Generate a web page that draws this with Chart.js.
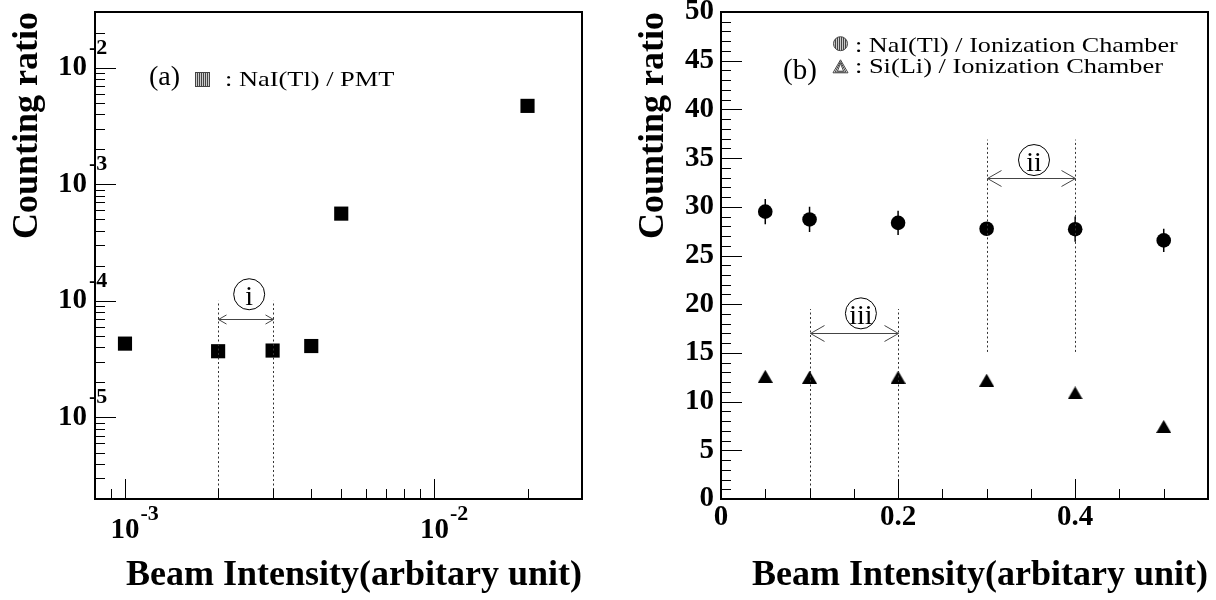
<!DOCTYPE html>
<html>
<head>
<meta charset="utf-8">
<title>Counting ratio vs beam intensity</title>
<script src="https://cdn.jsdelivr.net/npm/chart.js@4.4.1/dist/chart.umd.min.js"></script>
<style>
  html, body { margin: 0; padding: 0; background: #fff; }
  #wrap { position: relative; width: 1216px; height: 600px; }
  #wrap canvas { position: absolute; top: 0; }
  #chartA { left: 0; }
  #chartB { left: 608px; }
</style>
</head>
<body>
<div id="wrap">
  <canvas id="chartA" width="608" height="600"></canvas>
  <canvas id="chartB" width="608" height="600"></canvas>
</div>
<script>
// (a) NaI(Tl) / PMT on log-log axes
const beamA = [0.001, 0.002, 0.003, 0.004, 0.005, 0.02];
const ratioA = [4.3e-5, 3.7e-5, 3.75e-5, 4.1e-5, 5.6e-4, 4.7e-3];
const rangeXA = [8e-4, 3e-2];
const rangeYA = [2e-6, 3e-2];

// (b) detectors against the ionization chamber
const beamB = [0.05, 0.1, 0.2, 0.3, 0.4, 0.5];
const naiB = [29.5, 28.7, 28.35, 27.75, 27.7, 26.55];
const naiErrB = [1.3, 1.3, 1.25, 0.7, 1.3, 1.2];
const siB = [12.6, 12.5, 12.5, 12.2, 10.9, 7.45];
const rangeXB = [0, 0.55];
const rangeYB = [0, 50];

// marked intervals: dotted guides, double arrow, circled numeral
const marksA = [
  { text: 'i', from: 0.002, to: 0.003, lineY: [2e-6, 1e-4], arrowY: 7e-5, at: [2.52e-3, 1.14e-4], head: 8 }
];
const marksB = [
  { text: 'iii', from: 0.1, to: 0.2, lineY: [0, 19.5], arrowY: 17.0, at: [0.158, 19.06], head: 14 },
  { text: 'ii', from: 0.3, to: 0.4, lineY: [15.1, 36.9], arrowY: 33.0, at: [0.3535, 34.8], head: 14 }
];

const SERIF = "'Liberation Serif', 'Times New Roman', serif";
Chart.defaults.font.family = SERIF;
Chart.defaults.color = '#000';

function isDecade(v) {
  const e = Math.log10(v);
  return Math.abs(e - Math.round(e)) < 1e-6;
}

function multipleOf(v, step) {
  const r = v / step;
  return Math.abs(r - Math.round(r)) < 1e-6;
}

// 1..9 x 10^n inside [min, max]
function logTickValues(min, max) {
  const out = [];
  for (let e = Math.floor(Math.log10(min)); e <= Math.ceil(Math.log10(max)); e++) {
    for (let s = 1; s <= 9; s++) {
      const v = s * Math.pow(10, e);
      if (v >= min * 0.999 && v <= max * 1.001) out.push(v);
    }
  }
  return out;
}

function linearTickValues(min, max, step) {
  const out = [];
  const n = Math.round((max - min) / step);
  for (let i = 0; i <= n; i++) out.push(min + i * step);
  return out;
}

function stretchedText(ctx, text, x, y, sx) {
  ctx.save();
  ctx.translate(x, y);
  ctx.scale(sx, 1);
  ctx.fillText(text, 0, 0);
  ctx.restore();
}

// solid triangle, centred on its bounding box
function triangleMarker(w, h) {
  const c = document.createElement('canvas');
  c.width = w;
  c.height = h;
  const g = c.getContext('2d');
  g.fillStyle = '#000';
  g.beginPath();
  g.moveTo(w / 2, 0);
  g.lineTo(w, h);
  g.lineTo(0, h);
  g.closePath();
  g.fill();
  return c;
}

// hatched legend symbols
function hatchSquare(ctx, x, y, s) {
  ctx.save();
  ctx.fillStyle = '#ccc';
  ctx.fillRect(x, y, s, s);
  ctx.strokeStyle = '#444';
  ctx.lineWidth = 1;
  ctx.strokeRect(x + 0.5, y + 0.5, s - 1, s - 1);
  ctx.beginPath();
  for (let i = x + 2.5; i < x + s - 1; i += 2) {
    ctx.moveTo(i, y + 1);
    ctx.lineTo(i, y + s - 1);
  }
  ctx.stroke();
  ctx.restore();
}

function hatchCircle(ctx, cx, cy, r) {
  ctx.save();
  ctx.beginPath();
  ctx.arc(cx, cy, r, 0, Math.PI * 2);
  ctx.fillStyle = '#ccc';
  ctx.fill();
  ctx.strokeStyle = '#444';
  ctx.lineWidth = 1;
  ctx.stroke();
  ctx.clip();
  ctx.beginPath();
  for (let i = cx - r + 2; i < cx + r; i += 2) {
    ctx.moveTo(i, cy - r);
    ctx.lineTo(i, cy + r);
  }
  ctx.stroke();
  ctx.restore();
}

function hatchTriangle(ctx, cx, cy, w, h) {
  ctx.save();
  ctx.strokeStyle = '#444';
  ctx.lineWidth = 1;
  for (let k = 0; k < 3; k++) {
    const hw = w / 2 - k * 2.2, hh = h / 2 - k * 1.8;
    ctx.beginPath();
    ctx.moveTo(cx, cy - hh);
    ctx.lineTo(cx + hw, cy + h / 2 - k * 0.8);
    ctx.lineTo(cx - hw, cy + h / 2 - k * 0.8);
    ctx.closePath();
    ctx.stroke();
  }
  ctx.restore();
}

// inward ticks and the closed frame
function rootFrame(xTicks, yTicks, isMajorX, isMajorY) {
  return {
    id: 'rootFrame',
    afterDraw(chart) {
      const { ctx, chartArea: a } = chart;
      const xs = chart.scales.x, ys = chart.scales.y;
      ctx.save();
      ctx.strokeStyle = '#000';
      ctx.lineWidth = 1;
      ctx.beginPath();
      xTicks.forEach(v => {
        const px = Math.round(xs.getPixelForValue(v)) + 0.5;
        const len = isMajorX(v) ? 20 : 10;
        ctx.moveTo(px, a.bottom);
        ctx.lineTo(px, a.bottom - len);
      });
      yTicks.forEach(v => {
        const py = Math.round(ys.getPixelForValue(v)) + 0.5;
        const len = isMajorY(v) ? 21 : 10;
        ctx.moveTo(a.left, py);
        ctx.lineTo(a.left + len, py);
      });
      ctx.stroke();
      ctx.lineWidth = 2;
      ctx.strokeRect(a.left, a.top, a.right - a.left, a.bottom - a.top);
      ctx.restore();
    }
  };
}

// exponents next to the "10" labels of the log axes
const decadeExponents = {
  id: 'decadeExponents',
  afterDraw(chart) {
    const { ctx, chartArea: a } = chart;
    const xs = chart.scales.x, ys = chart.scales.y;
    ctx.save();
    ctx.fillStyle = '#000';
    ctx.font = 'bold 29px ' + SERIF;
    const w10 = ctx.measureText('10').width;
    ctx.font = 'bold 22px ' + SERIF;
    ctx.textAlign = 'left';
    ctx.textBaseline = 'alphabetic';
    logTickValues(rangeXA[0], rangeXA[1]).filter(isDecade).forEach(v => {
      const px = xs.getPixelForValue(v);
      ctx.fillText(String(Math.round(Math.log10(v))), px + w10 / 2 + 1, a.bottom + 21);
    });
    logTickValues(rangeYA[0], rangeYA[1]).filter(isDecade).forEach(v => {
      const py = ys.getPixelForValue(v);
      ctx.fillText(String(Math.round(Math.log10(v))), a.left - 6, py - 14);
    });
    ctx.restore();
  }
};

// vertical error bars for the NaI(Tl) points
const errorBars = {
  id: 'errorBars',
  beforeDatasetsDraw(chart) {
    const { ctx } = chart;
    const xs = chart.scales.x, ys = chart.scales.y;
    ctx.save();
    ctx.strokeStyle = '#000';
    ctx.lineWidth = 1.5;
    ctx.beginPath();
    beamB.forEach((b, i) => {
      const px = xs.getPixelForValue(b);
      ctx.moveTo(px, ys.getPixelForValue(naiB[i] - naiErrB[i]));
      ctx.lineTo(px, ys.getPixelForValue(naiB[i] + naiErrB[i]));
    });
    ctx.stroke();
    ctx.restore();
  }
};

function rangeMarks(marks) {
  return {
    id: 'rangeMarks',
    afterDatasetsDraw(chart) {
      const { ctx } = chart;
      const xs = chart.scales.x, ys = chart.scales.y;
      ctx.save();
      marks.forEach(m => {
        const x1 = Math.round(xs.getPixelForValue(m.from)) + 0.5;
        const x2 = Math.round(xs.getPixelForValue(m.to)) + 0.5;
        const yb = ys.getPixelForValue(m.lineY[0]);
        const yt = ys.getPixelForValue(m.lineY[1]);
        ctx.lineWidth = 1;
        ctx.strokeStyle = '#333';
        ctx.setLineDash([2, 2.5]);
        ctx.beginPath();
        [x1, x2].forEach(x => { ctx.moveTo(x, yb); ctx.lineTo(x, yt); });
        ctx.stroke();
        ctx.setLineDash([]);

        const ya = Math.round(ys.getPixelForValue(m.arrowY)) + 0.5;
        const h = m.head, hw = h * 0.57;
        ctx.strokeStyle = '#444';
        ctx.beginPath();
        ctx.moveTo(x1, ya); ctx.lineTo(x2, ya);
        ctx.moveTo(x1 + h, ya - hw); ctx.lineTo(x1, ya); ctx.lineTo(x1 + h, ya + hw);
        ctx.moveTo(x2 - h, ya - hw); ctx.lineTo(x2, ya); ctx.lineTo(x2 - h, ya + hw);
        ctx.stroke();

        const cx = xs.getPixelForValue(m.at[0]);
        const cy = ys.getPixelForValue(m.at[1]);
        ctx.strokeStyle = '#000';
        ctx.fillStyle = '#fff';
        ctx.beginPath();
        ctx.arc(cx, cy, 15.5, 0, Math.PI * 2);
        ctx.fill();
        ctx.stroke();
        ctx.fillStyle = '#000';
        ctx.font = '28px ' + SERIF;
        ctx.textAlign = 'center';
        ctx.textBaseline = 'alphabetic';
        ctx.fillText(m.text, cx, cy + 11);
      });
      ctx.restore();
    }
  };
}

const legendA = {
  id: 'legendA',
  afterDraw(chart) {
    const { ctx, chartArea: a } = chart;
    ctx.save();
    ctx.fillStyle = '#000';
    ctx.textBaseline = 'alphabetic';
    ctx.font = '28px ' + SERIF;
    ctx.fillText('(a)', a.left + 54, a.top + 73);
    hatchSquare(ctx, a.left + 100, a.top + 60, 15);
    ctx.font = '22px ' + SERIF;
    stretchedText(ctx, ': NaI(Tl) / PMT', a.left + 130, a.top + 74, 1.2);
    ctx.restore();
  }
};

const legendB = {
  id: 'legendB',
  afterDraw(chart) {
    const { ctx, chartArea: a } = chart;
    ctx.save();
    ctx.fillStyle = '#000';
    ctx.textBaseline = 'alphabetic';
    ctx.font = '29px ' + SERIF;
    ctx.fillText('(b)', a.left + 62, a.top + 67);
    hatchCircle(ctx, a.left + 119.5, a.top + 31.7, 7);
    hatchTriangle(ctx, a.left + 119.5, a.top + 54.3, 15, 13);
    ctx.fillStyle = '#000';
    ctx.font = '22px ' + SERIF;
    stretchedText(ctx, ': NaI(Tl) / Ionization Chamber', a.left + 134, a.top + 39.7, 1.19);
    stretchedText(ctx, ': Si(Li) / Ionization Chamber', a.left + 134, a.top + 60.7, 1.2);
    ctx.restore();
  }
};

const titleFont = { family: SERIF, size: 36, weight: 'bold' };
const tickFont = { family: SERIF, size: 29, weight: 'bold' };
const xTitle = { display: true, text: 'Beam Intensity(arbitary unit)', align: 'end', font: titleFont, color: '#000', padding: { top: 0, bottom: 2.5 } };
const yTitle = { display: true, text: 'Counting ratio', align: 'end', font: titleFont, color: '#000', padding: { top: 6.4, bottom: 0 } };

// fixed axis boxes, no extra room for labels hanging past the frame
function fixX(s) {
  s.height = 101;
  s.paddingLeft = s.paddingRight = s.paddingTop = s.paddingBottom = 0;
}
function fixY(s) {
  s.width = 95;
  s.paddingLeft = s.paddingRight = s.paddingTop = s.paddingBottom = 0;
}

new Chart(document.getElementById('chartA'), {
  type: 'scatter',
  data: {
    datasets: [{
      label: 'NaI(Tl) / PMT',
      data: beamA.map((b, i) => ({ x: b, y: ratioA[i] })),
      pointStyle: 'rect',
      pointRadius: 10,
      pointBorderWidth: 0,
      backgroundColor: '#000'
    }]
  },
  options: {
    responsive: false,
    animation: false,
    layout: { autoPadding: false, padding: { top: 12, right: 26, bottom: 0, left: 0 } },
    plugins: { legend: { display: false }, tooltip: { enabled: false } },
    scales: {
      x: {
        type: 'logarithmic',
        min: rangeXA[0],
        max: rangeXA[1],
        grid: { display: false, drawTicks: false },
        border: { display: false },
        ticks: {
          autoSkip: false, maxRotation: 0, padding: 13.8, font: tickFont, color: '#000',
          callback: v => isDecade(v) ? '10' : ''
        },
        title: xTitle,
        afterFit: fixX
      },
      y: {
        type: 'logarithmic',
        min: rangeYA[0],
        max: rangeYA[1],
        grid: { display: false, drawTicks: false },
        border: { display: false },
        ticks: {
          autoSkip: false, padding: 8, font: tickFont, color: '#000',
          callback: v => isDecade(v) ? '10' : ''
        },
        title: yTitle,
        afterFit: fixY
      }
    }
  },
  plugins: [
    rootFrame(logTickValues(rangeXA[0], rangeXA[1]), logTickValues(rangeYA[0], rangeYA[1]), isDecade, isDecade),
    decadeExponents, rangeMarks(marksA), legendA
  ]
});

new Chart(document.getElementById('chartB'), {
  type: 'scatter',
  data: {
    datasets: [{
      label: 'NaI(Tl) / Ionization Chamber',
      data: beamB.map((b, i) => ({ x: b, y: naiB[i] })),
      pointStyle: 'circle',
      pointRadius: 7.3,
      pointBorderWidth: 0,
      backgroundColor: '#000'
    }, {
      label: 'Si(Li) / Ionization Chamber',
      data: beamB.map((b, i) => ({ x: b, y: siB[i] })),
      pointStyle: triangleMarker(15, 13),
      pointRadius: 8,
      pointBorderWidth: 0,
      backgroundColor: '#000'
    }]
  },
  options: {
    responsive: false,
    animation: false,
    layout: { autoPadding: false, padding: { top: 12, right: 8, bottom: 0, left: 18 } },
    plugins: { legend: { display: false }, tooltip: { enabled: false } },
    scales: {
      x: {
        type: 'linear',
        min: rangeXB[0],
        max: rangeXB[1],
        grid: { display: false, drawTicks: false },
        border: { display: false },
        ticks: {
          stepSize: 0.05, autoSkip: false, maxRotation: 0, padding: 0.8, font: tickFont, color: '#000',
          callback: v => multipleOf(v, 0.2) ? String(+v.toFixed(1)) : ''
        },
        title: xTitle,
        afterFit: fixX
      },
      y: {
        type: 'linear',
        min: rangeYB[0],
        max: rangeYB[1],
        grid: { display: false, drawTicks: false },
        border: { display: false },
        ticks: {
          stepSize: 1, autoSkip: false, padding: 7, font: tickFont, color: '#000',
          callback: v => multipleOf(v, 5) ? String(Math.round(v)) : ''
        },
        title: yTitle,
        afterFit: fixY
      }
    }
  },
  plugins: [
    rootFrame(linearTickValues(rangeXB[0], rangeXB[1], 0.05), linearTickValues(rangeYB[0], rangeYB[1], 1),
      v => multipleOf(v, 0.2), v => multipleOf(v, 5)),
    errorBars, rangeMarks(marksB), legendB
  ]
});
</script>
</body>
</html>
